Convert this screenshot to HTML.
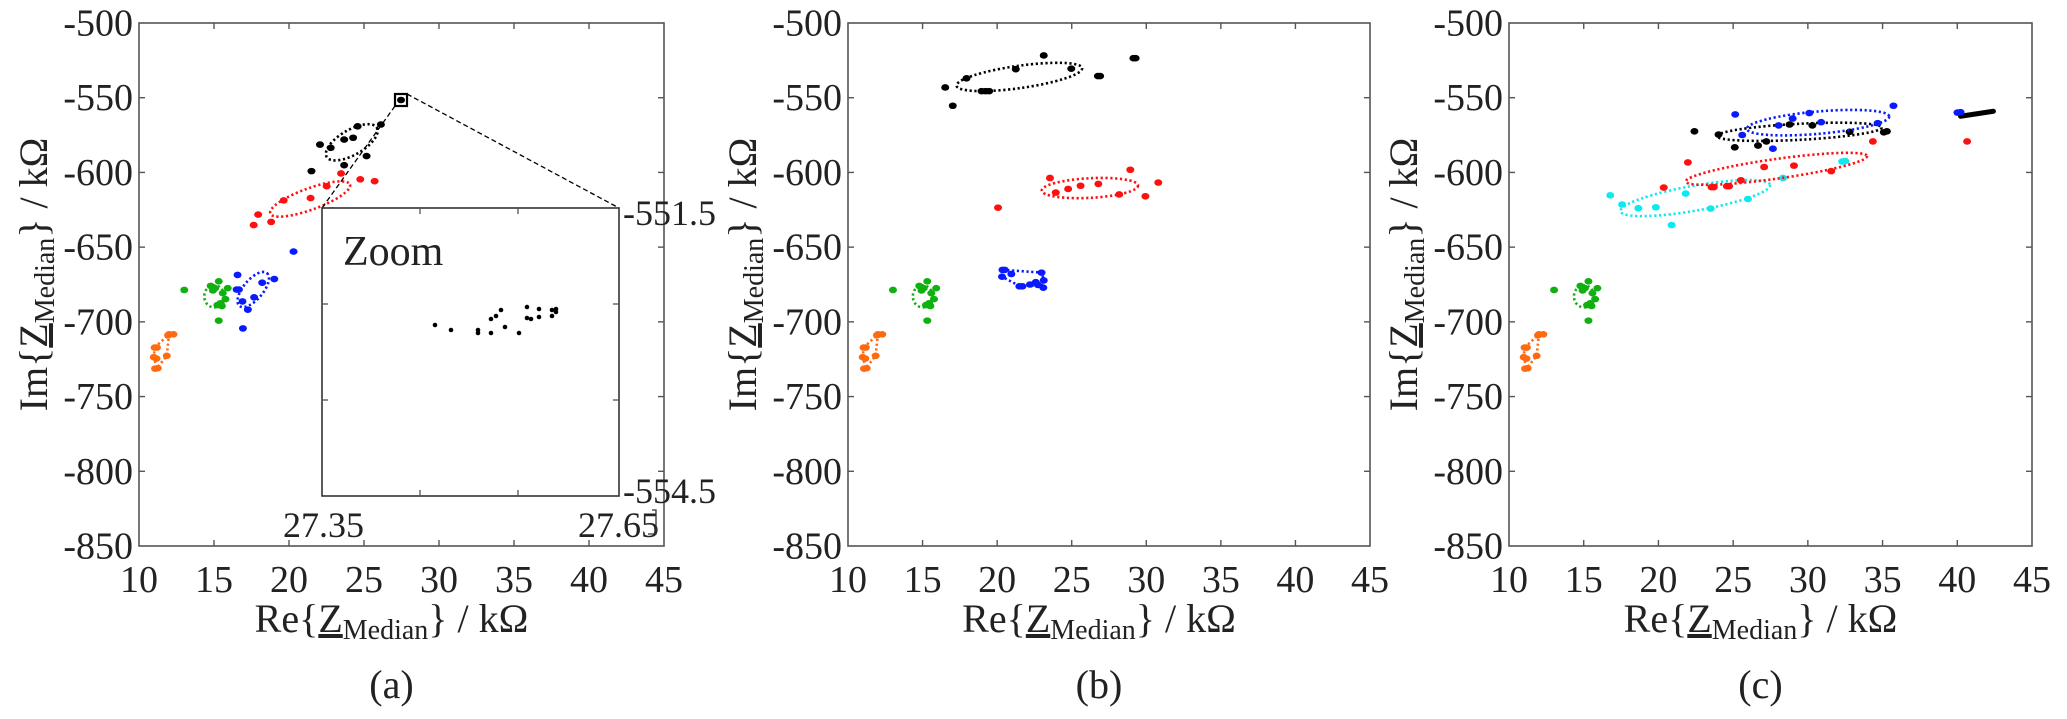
<!DOCTYPE html>
<html><head><meta charset="utf-8">
<style>
html,body{margin:0;padding:0;background:#fff;}
svg{display:block;}
text{font-family:"Liberation Serif","Times New Roman",serif;fill:#222;}
</style></head>
<body>
<svg id="s" width="2067" height="719" viewBox="0 0 2067 719" xmlns="http://www.w3.org/2000/svg" font-family="Liberation Serif, serif"></svg>
<script>
const S=document.getElementById('s');
const NS='http://www.w3.org/2000/svg';
function el(t,a,txt){const e=document.createElementNS(NS,t);for(const k in a)e.setAttribute(k,a[k]);if(t==='text')e.setAttribute('font-family','Liberation Serif, serif');if(txt!==undefined)e.textContent=txt;S.appendChild(e);return e;}
const panels=[
 {L:139,R:664,T:23,B:546,zl:310,zr:1482,zt:47,zb:1191,lab:'(a)'},
 {L:848,R:1370,T:23,B:546,zl:342,zr:1518,zt:47,zb:1191,lab:'(b)'},
 {L:1509,R:2032,T:23,B:546,zl:295,zr:1488,zt:47,zb:1191,lab:'(c)'}
];
function zp(p,X,Y){return [p.L+(X-p.zl)/(p.zr-p.zl)*(p.R-p.L), p.T+(Y-p.zt)/(p.zb-p.zt)*(p.B-p.T)];}
function ztoA(p,X,Y){const a=panels[0];const re=10+(X-a.zl)/(a.zr-a.zl)*35;const im=(Y-a.zt)/(a.zb-a.zt);return [p.L+(re-10)/35*(p.R-p.L), p.T+im*(p.B-p.T)];}
const col={o:'#ff6a10',g:'#10b010',b:'#0a1aff',r:'#ff1010',k:'#000',c:'#10e8f0'};
function dot(x,y,c){el('ellipse',{cx:x,cy:y,rx:4,ry:3.3,fill:c});}
function ell(p,X,Y,rx,ry,rot,c){const [x,y]=zp(p,X,Y);el('ellipse',{cx:x,cy:y,rx:rx/2.24,ry:ry/2.24,transform:`rotate(${rot} ${x} ${y})`,fill:'none',stroke:c,'stroke-width':2.6,'stroke-dasharray':'2.2 2.6'});}
function pts(p,arr,c,shared){arr.forEach(q=>{const [x,y]=shared?ztoA(p,q[0],q[1]):zp(p,q[0],q[1]);dot(x,y,c);});}
function poly(p,arr,c,shared){const d=arr.map(q=>(shared?ztoA(p,q[0],q[1]):zp(p,q[0],q[1])).join(',')).join(' ');el('polygon',{points:d,fill:'none',stroke:c,'stroke-width':2.6,'stroke-dasharray':'2.2 2.6'});}
const orange=[[345,757],[350,757],[343,778],[349,781],[346,803],[352,802],[372,775],[377,728],[387,728],[375,730]];
const orangeP=[[345,757],[377,728],[372,775],[350,802],[343,778]];
const green=[[411,631],[475,632],[488,612],[480,627],[497,638],[508,627],[503,651],[485,664],[495,666],[488,698],[470,622],[492,660]];
panels.forEach((p,i)=>{
 el('rect',{x:p.L,y:p.T,width:p.R-p.L,height:p.B-p.T,fill:'none',stroke:'#555','stroke-width':1.6});
 for(let k=0;k<8;k++){const x=p.L+k*(p.R-p.L)/7;
  if(k>0&&k<7){el('line',{x1:x,y1:p.B,x2:x,y2:p.B-6,stroke:'#555','stroke-width':1.4});el('line',{x1:x,y1:p.T,x2:x,y2:p.T+6,stroke:'#555','stroke-width':1.4});}
  el('text',{x:x,y:p.B+46,'text-anchor':'middle','font-size':38},String(10+5*k));}
 for(let k=0;k<8;k++){const y=p.T+k*(p.B-p.T)/7;
  if(k>0&&k<7){el('line',{x1:p.L,y1:y,x2:p.L+6,y2:y,stroke:'#555','stroke-width':1.4});el('line',{x1:p.R,y1:y,x2:p.R-6,y2:y,stroke:'#555','stroke-width':1.4});}
  el('text',{x:p.L-6,y:y+12.5,'text-anchor':'end','font-size':38},String(-500-50*k));}
 const cx=(p.L+p.R)/2;
 const t=el('text',{x:cx-10,y:632,'text-anchor':'middle','font-size':40});
 t.innerHTML='Re{<tspan text-decoration="underline">Z</tspan><tspan font-size="28" dy="7">Median</tspan><tspan dy="-7">} / kΩ</tspan>';
 const yl=el('text',{x:0,y:0,'text-anchor':'middle','font-size':40,transform:`translate(${p.L-92},${(p.T+p.B)/2-10}) rotate(-90)`});
 yl.innerHTML='Im{<tspan text-decoration="underline">Z</tspan><tspan font-size="28" dy="7">Median</tspan><tspan dy="-7">} / kΩ</tspan>';
 el('text',{x:cx-10,y:698,'text-anchor':'middle','font-size':40},p.lab);
 pts(p,orange,col.o,true);poly(p,orangeP,col.o,true);
 pts(p,green,col.g,true);
 const [gx,gy]=ztoA(p,478,645);el('ellipse',{cx:gx,cy:gy,rx:10,ry:11,fill:'none',stroke:col.g,'stroke-width':2.6,'stroke-dasharray':'2.2 2.6'});
});
let p=panels[0];
pts(p,[[530,598],[533,630],[541,656],[542,715],[553,674],[567,647],[585,615],[612,607],[655,547],[528,630]],col.b);
ell(p,565,630,48,22,-50,col.b);
pts(p,[[566,489],[576,466],[605,482],[633,435],[693,430],[729,404],[741,457],[761,376],[804,389],[836,393]],col.r);
ell(p,692,432,95,24,-20,col.r);
pts(p,[[695,371],[714,313],[738,320],[768,302],[788,298],[798,273],[768,358],[818,338],[850,269]],col.k);
ell(p,785,308,65,28,-30,col.k);
el('rect',{x:395,y:94,width:12,height:12,fill:'none',stroke:'#000','stroke-width':2.2});
dot(401,100,'#000');
el('line',{x1:395,y1:106,x2:322,y2:208,stroke:'#000','stroke-width':1.3,'stroke-dasharray':'5 3'});
el('line',{x1:407,y1:94,x2:619,y2:208,stroke:'#000','stroke-width':1.3,'stroke-dasharray':'5 3'});
el('rect',{x:322,y:208,width:297,height:288,fill:'#fff',stroke:'#333','stroke-width':1.6});
[420,518].forEach(x=>{el('line',{x1:x,y1:496,x2:x,y2:490,stroke:'#555','stroke-width':1.3});el('line',{x1:x,y1:208,x2:x,y2:214,stroke:'#555','stroke-width':1.3});});
[304,400].forEach(y=>{el('line',{x1:322,y1:y,x2:328,y2:y,stroke:'#555','stroke-width':1.3});el('line',{x1:619,y1:y,x2:613,y2:y,stroke:'#555','stroke-width':1.3});});
el('text',{x:343,y:265,'font-size':42},'Zoom');
el('text',{x:623,y:225,'font-size':36},'-551.5');
el('text',{x:623,y:503,'font-size':36},'-554.5');
el('text',{x:283,y:537,'font-size':36},'27.35');
el('text',{x:578,y:537,'font-size':36},'27.65');
el('path',{d:'M652 510 L656 510 L656 534 L648 534',fill:'none',stroke:'#333','stroke-width':1.3});
[[435,325],[451,330],[478,330],[478,333],[491,333],[491,319],[496,316],[501,310],[505,327],[519,333],[527,307],[527,318],[531,319],[539,317],[539,309],[552,310],[552,316],[556,312],[556,309]].forEach(q=>el('circle',{cx:q[0],cy:q[1],r:2.3,fill:'#000'}));
p=panels[1];
pts(p,[[561,188],[578,228],[609,168],[643,196],[660,196],[720,148],[783,118],[845,147],[910,163],[990,124],[652,196],[905,163],[985,124]],col.k);
ell(p,728,165,142,25,-8,col.k);
pts(p,[[680,451],[797,386],[810,418],[838,410],[866,403],[906,399],[953,422],[978,368],[1012,426],[1041,396]],col.r);
ell(p,887,408,108,22,-3,col.r);
pts(p,[[690,587],[689,602],[710,596],[728,623],[752,619],[770,620],[778,593],[782,626],[783,610],[765,614],[695,587],[735,623]],col.b);
poly(p,[[690,587],[780,593],[783,620],[728,622],[689,602]],col.b);
p=panels[2];
pts(p,[[526,424],[553,444],[590,452],[630,450],[698,420],[666,489],[755,453],[840,432],[920,386],[1062,349],[1055,350]],col.c);
ell(p,720,430,170,28,-10,col.c);
pts(p,[[648,407],[703,352],[762,406],[797,404],[824,391],[877,362],[945,359],[1030,371],[1125,306],[1340,306],[757,406],[792,404]],col.r);
ell(p,905,366,205,22,-8,col.r);
pts(p,[[718,284],[773,291],[810,319],[863,315],[882,306],[935,269],[987,271],[1072,285],[1157,284],[1150,286]],col.k);
ell(p,957,285,185,18,-3,col.k);
{const a=zp(p,1325,251),b=zp(p,1400,240);el('line',{x1:a[0],y1:a[1],x2:b[0],y2:b[1],stroke:'#000','stroke-width':5,'stroke-linecap':'round'});}
pts(p,[[811,247],[827,292],[897,322],[910,271],[942,256],[980,244],[1007,264],[1136,266],[1172,228],[1318,243],[1325,242]],col.b);
ell(p,1000,265,160,25,-5,col.b);
</script>
</body></html>
